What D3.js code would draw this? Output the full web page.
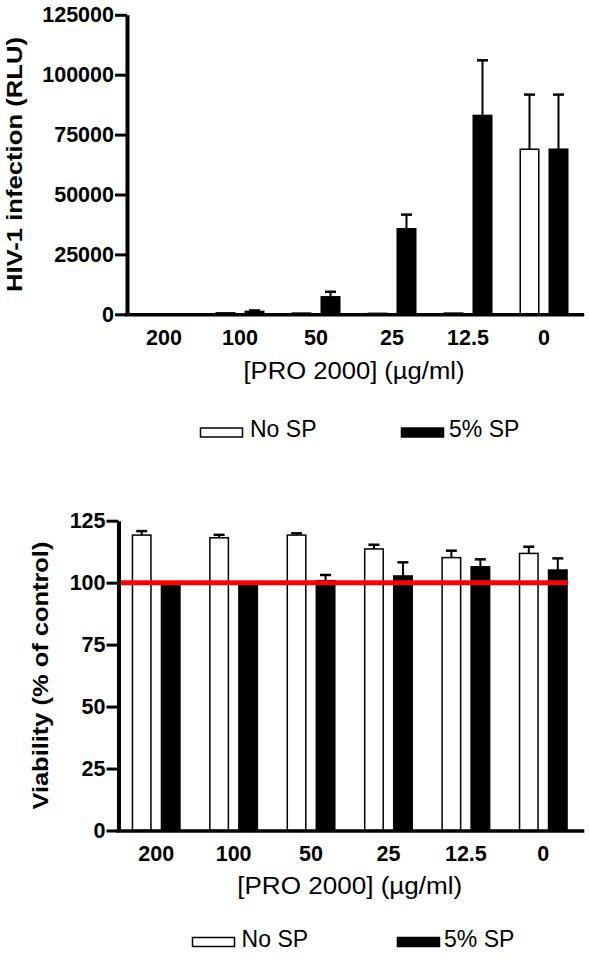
<!DOCTYPE html>
<html><head><meta charset="utf-8">
<script src="https://cdn.jsdelivr.net/npm/d3@7"></script>
<style>
body{margin:0;background:#fff}
svg{display:block}
text{font-family:"Liberation Sans",Arial,Helvetica,sans-serif;fill:#000}
</style>
</head><body>
<svg id="chart" width="589" height="960"></svg>
<script>
// ---------- data ----------
const categories = ["200", "100", "50", "25", "12.5", "0"];
const seriesNames = ["No SP", "5% SP"];
const xTitle = "[PRO 2000] (\u00b5g/ml)";

// Panel A: HIV-1 infection (RLU)
const infectionNoSP    = [100, 600, 500, 400, 500, 68900];
const infectionNoSPErr = [0, 0, 0, 0, 0, 22800];
const infection5SP     = [50, 1200, 7300, 35700, 83000, 68900];
const infection5SPErr  = [0, 400, 2100, 5900, 23000, 22800];
const infectionTicks   = [0, 25000, 50000, 75000, 100000, 125000];

// Panel B: Viability (% of control)
const viabilityNoSP    = [119.2, 118.1, 119.2, 113.6, 110.1, 111.8];
const viabilityNoSPErr = [1.6, 1.2, 0.7, 1.7, 2.8, 2.7];
const viability5SP     = [99.0, 99.0, 100.8, 102.7, 106.4, 105.1];
const viability5SPErr  = [0.5, 0.5, 2.3, 5.5, 3.0, 4.7];
const viabilityTicks   = [0, 25, 50, 75, 100, 125];
const controlLevel = 100;

// ---------- drawing ----------
const svg = d3.select("#chart");

function drawPanel(p) {
  const g = svg.append("g");
  const x0 = d3.scaleBand().domain(categories).range(p.xRange).padding(0);
  const half = x0.bandwidth() / 2;
  const x1 = d3.scaleBand().domain(seriesNames).range([half - 24.5, half + 24.5]).paddingInner(0.31);
  const y = d3.scaleLinear().domain([0, d3.max(p.ticks)]).range(p.yRange);

  const data = [];
  categories.forEach((c, i) => {
    seriesNames.forEach((s, j) => {
      data.push({c, s, v: p.values[j][i], e: p.errs[j][i]});
    });
  });

  // bars
  g.selectAll("rect.bar").data(data).join("rect")
    .attr("class", "bar")
    .attr("x", d => x0(d.c) + x1(d.s) + 0.75)
    .attr("width", x1.bandwidth() - 1.5)
    .attr("y", d => y(d.v))
    .attr("height", d => Math.max(0, y(0) - y(d.v)))
    .attr("fill", d => d.s === "No SP" ? "#fff" : "#000")
    .attr("stroke", "#000")
    .attr("stroke-width", 1.5);

  // error bars (upper only)
  const eb = data.filter(d => d.e > 0);
  const cx = d => x0(d.c) + x1(d.s) + x1.bandwidth() / 2;
  g.selectAll("line.err").data(eb).join("line")
    .attr("x1", cx).attr("x2", cx)
    .attr("y1", d => y(d.v)).attr("y2", d => y(d.v + d.e))
    .attr("stroke", "#000").attr("stroke-width", 2);
  g.selectAll("line.cap").data(eb).join("line")
    .attr("x1", d => cx(d) - 5.5).attr("x2", d => cx(d) + 5.5)
    .attr("y1", d => y(d.v + d.e)).attr("y2", d => y(d.v + d.e))
    .attr("stroke", "#000").attr("stroke-width", 2.5);

  // reference line
  if (p.refLine != null) {
    const last = categories[categories.length - 1];
    g.append("line")
      .attr("x1", p.xRange[0] + 2)
      .attr("x2", x0(last) + x1(seriesNames[1]) + x1.bandwidth())
      .attr("y1", y(p.refLine)).attr("y2", y(p.refLine))
      .attr("stroke", "#ff0000").attr("stroke-width", 5);
  }

  // x axis
  const xa = g.append("g")
    .attr("transform", `translate(0,${y(0)})`)
    .call(d3.axisBottom(x0).tickSize(0).tickSizeOuter(0))
    .attr("font-family", null).attr("font-size", null);
  xa.select(".domain").attr("stroke", "#000").attr("stroke-width", 3.5).attr("stroke-linecap", "square");
  xa.selectAll(".tick text")
    .attr("y", 30.5).attr("dy", 0)
    .style("font-size", "21.5px").style("font-weight", "bold");

  // y axis
  const ya = g.append("g")
    .attr("transform", `translate(${p.axisX},0)`)
    .call(d3.axisLeft(y).tickValues(p.ticks).tickSize(12).tickSizeOuter(0).tickPadding(1).tickFormat(d3.format("d")))
    .attr("font-family", null).attr("font-size", null);
  ya.select(".domain").attr("stroke", "#000").attr("stroke-width", 4);
  ya.selectAll(".tick line").attr("stroke", "#000").attr("stroke-width", 3);
  ya.selectAll(".tick text")
    .style("font-size", "21.5px").style("font-weight", "bold");

  // titles
  g.append("text")
    .attr("x", (p.xRange[0] + p.xRange[1]) / 2).attr("y", p.xTitleY)
    .attr("text-anchor", "middle")
    .attr("textLength", p.xTitleLen).attr("lengthAdjust", "spacingAndGlyphs")
    .style("font-size", "23px")
    .text(xTitle);

  g.append("text")
    .attr("transform", `translate(${p.yTitleX},${(p.yRange[0] + p.yRange[1]) / 2}) rotate(-90)`)
    .attr("text-anchor", "middle")
    .attr("textLength", p.yTitleLen).attr("lengthAdjust", "spacingAndGlyphs")
    .style("font-size", "21.5px").style("font-weight", "bold")
    .text(p.yTitle);

  // legend
  const lg = g.append("g");
  const lItems = seriesNames.map((s, j) => ({s, bx: p.legend.boxX[j], tx: p.legend.textX[j]}));
  lg.selectAll("rect").data(lItems).join("rect")
    .attr("x", d => d.bx).attr("y", p.legend.boxY)
    .attr("width", 42).attr("height", 9)
    .attr("fill", d => d.s === "No SP" ? "#fff" : "#000")
    .attr("stroke", "#000").attr("stroke-width", 1.5);
  lg.selectAll("text").data(lItems).join("text")
    .attr("x", d => d.tx).attr("y", p.legend.baseline)
    .style("font-size", "23px")
    .text(d => d.s);
}

drawPanel({
  values: [infectionNoSP, infection5SP],
  errs: [infectionNoSPErr, infection5SPErr],
  ticks: infectionTicks,
  xRange: [126, 582], yRange: [314.3, 14.8], axisX: 127,
  yTitle: "HIV-1 infection (RLU)", yTitleX: 22.3, yTitleLen: 255,
  xTitleY: 378.5, xTitleLen: 221,
  refLine: null,
  legend: {boxX: [200.5, 401.5], textX: [250, 449], boxY: 428, baseline: 436.7}
});

drawPanel({
  values: [viabilityNoSP, viability5SP],
  errs: [viabilityNoSPErr, viability5SPErr],
  ticks: viabilityTicks,
  xRange: [117.5, 582], yRange: [830.5, 520.7], axisX: 118.5,
  yTitle: "Viability (% of control)", yTitleX: 48, yTitleLen: 268,
  xTitleY: 893.5, xTitleLen: 225,
  refLine: controlLevel,
  legend: {boxX: [192.5, 397.5], textX: [241.6, 444], boxY: 937.5, baseline: 946.6}
});
</script>
</body></html>
